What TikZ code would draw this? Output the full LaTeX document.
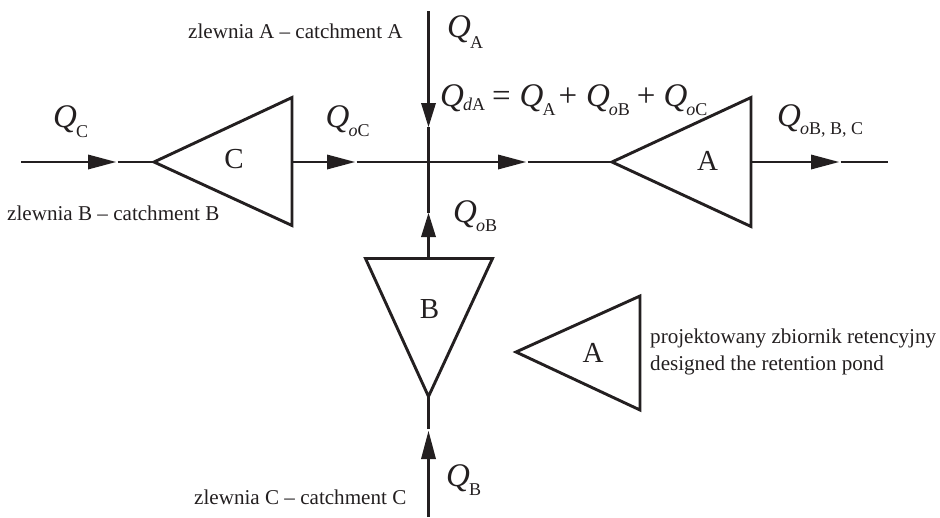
\documentclass[tikz,border=0pt]{standalone}
\usepackage{fontspec}
\setmainfont{Liberation Serif}
\usetikzlibrary{arrows.meta}
\definecolor{ink}{HTML}{231F20}
\newcommand{\QQ}[2]{{\fontsize{33}{33}\selectfont\itshape Q}\kern-1pt\raisebox{-#1pt}{\fontsize{18}{18}\selectfont #2}}
\newcommand{\OO}{\textit{o}}
\newcommand{\OPR}[1]{{\fontsize{33}{33}\selectfont #1}}
\tikzset{
  x=1pt,y=-1pt,
  line/.style={draw=ink,line width=2.9pt},
  flow/.style={line,-{Triangle[length=28pt,width=15pt,line width=0pt,fill=ink]}},
  flowshort/.style={line,-{Triangle[length=24pt,width=15pt,line width=0pt,fill=ink]}},
  pond/.style={draw=ink,line width=2.9pt,line join=miter},
  lab/.style={inner sep=0pt,text=ink,anchor=base west,font=\fontsize{21.1}{24}\selectfont},
  big/.style={inner sep=0pt,text=ink,anchor=base,font=\fontsize{29}{29}\selectfont},
  qn/.style={inner sep=0pt,text=ink,anchor=base west},
}
\begin{document}
\begin{tikzpicture}
\useasboundingbox (0,0) rectangle (940,517);
% ponds
\coordinate (Ct) at (154,162); \coordinate (Cu) at (292,97.5); \coordinate (Cd) at (292,225.5); \coordinate (Cr) at (292,162);
\coordinate (At) at (612,162); \coordinate (Au) at (751,97.5); \coordinate (Ad) at (751,226.5); \coordinate (Ar) at (751,162);
\coordinate (Bt) at (428.5,396.5); \coordinate (Bl) at (365.5,258.5); \coordinate (Br) at (492.5,258.5); \coordinate (Bm) at (428.5,258.5);
\coordinate (Lt) at (516,352); \coordinate (Lu) at (640,296); \coordinate (Ld) at (640,410);
\draw[pond] (Ct) -- (Cu) -- (Cd) -- cycle;
\draw[pond] (At) -- (Au) -- (Ad) -- cycle;
\draw[pond] (Bt) -- (Bl) -- (Br) -- cycle;
\draw[pond] (Lt) -- (Lu) -- (Ld) -- cycle;
% junction and line ends
\coordinate (J) at (428.5,162);
\coordinate (w0) at (21,162); \coordinate (w1) at (116,162); \coordinate (w2) at (117.5,162);
\coordinate (o1) at (355,162); \coordinate (o2) at (356.5,162);
\coordinate (m1) at (526,162); \coordinate (m2) at (527.5,162);
\coordinate (e1) at (839,162); \coordinate (e2) at (840.5,162); \coordinate (e3) at (888,162);
\coordinate (n0) at (428.5,11); \coordinate (n1) at (428.5,127);
\coordinate (s0) at (428.5,517); \coordinate (s1) at (428.5,431); \coordinate (s2) at (428.5,429);
\coordinate (b1) at (428.5,213);
\draw[flow] (w0) -- (w1);
\draw[line] (w2) -- (Ct);
\draw[flow] (Cr) -- (o1);
\draw[line] (o2) -- (J);
\draw[flow] (J) -- (m1);
\draw[line] (m2) -- (At);
\draw[flow] (Ar) -- (e1);
\draw[line] (e2) -- (e3);
\draw[flowshort] (n0) -- (n1);
\draw[line] (n1) -- (J);
\draw[flowshort] (Bm) -- (b1);
\draw[line] (b1) -- (J);
\draw[flow] (s0) -- (s1);
\draw[line] (s2) -- (Bt);
% pond letters
\node[big] (tC) at (234,168) {C};
\node[big] (tA) at (707.5,170) {A};
\node[big] (tB) at (429.5,318) {B};
\node[big] (tL) at (593,362) {A};
% labels
\node[lab] (zA) at (188,38) {zlewnia A – catchment A};
\node[lab] (zB) at (7,220) {zlewnia B – catchment B};
\node[lab] (zC) at (194,504) {zlewnia C – catchment C};
\node[lab] (p1) at (650,343) {projektowany zbiornik retencyjny};
\node[lab] (p2) at (650,370) {designed the retention pond};
% flows
\node[qn] (qA) at (447,37.5) {\QQ{10.5}{A}};
\node[qn] (qC) at (53,127) {\QQ{10}{C}};
\node[qn] (qoC) at (325.5,127) {\QQ{9}{\OO C}};
\node[qn] (qoB) at (453,222) {\QQ{9}{\OO B}};
\node[qn] (qB) at (446,486) {\QQ{9}{B}};
\node[qn] (qe) at (777,126) {\QQ{8.5}{\OO B, B, C}};
\node[qn] (qd) at (440,106.5) {\QQ{4}{\textit{d}A}\hspace{7pt}\OPR{=}\hspace{9pt}\QQ{9}{A}\hspace{3pt}\OPR{+}\hspace{9pt}\QQ{9}{\OO B}\hspace{7pt}\OPR{+}\hspace{8pt}\QQ{9}{\OO C}};
\end{tikzpicture}
\end{document}
